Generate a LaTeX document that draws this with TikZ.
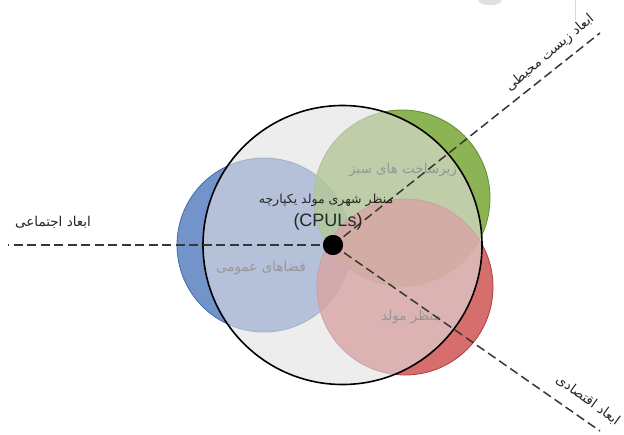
\documentclass[tikz,border=0pt]{standalone}
\usepackage{fontspec}
\setmainfont{Liberation Sans}
\newfontfamily\arabicfont[Script=Arabic]{DejaVu Sans}
\TeXXeTstate=1
\definecolor{pubfill}{RGB}{80,120,190}
\definecolor{publine}{RGB}{70,105,165}
\definecolor{grnfill}{RGB}{112,161,42}
\definecolor{grnline}{RGB}{100,140,45}
\definecolor{redfill}{RGB}{204,74,74}
\definecolor{redline}{RGB}{175,60,60}
\definecolor{overlay}{RGB}{225,225,225}
\definecolor{axiscol}{RGB}{55,55,55}
\definecolor{faint}{RGB}{150,150,150}
\begin{document}
\begin{tikzpicture}[x=1pt,y=-1pt,
  venn/.style={circle, inner sep=0pt, minimum size=#1, fill opacity=0.8, line width=0.8pt},
  bigc/.style={circle, inner sep=0pt, minimum size=#1, fill=overlay, fill opacity=0.6, draw=black, line width=1.6pt},
  axis/.style={draw=axiscol, line width=1.5pt, dash pattern=on 9pt off 4.5pt},
  axlabel/.style={font=\arabicfont\fontsize{13.5}{15}\selectfont, text=black!85, inner sep=1pt},
  setlabel/.style={font=\arabicfont\fontsize{13.5}{16}\selectfont, text=faint, inner sep=1pt},
  mainlabel/.style={font=\arabicfont\fontsize{12.5}{15}\selectfont, text=black!85, inner sep=1pt}]
\useasboundingbox (0,0) rectangle (624,434);
\fill[white] (0,0) rectangle (624,434);
% faint cropped artefacts at the top
\fill[black!12] (478,0) .. controls (480,7) and (500,7) .. (502,0) -- cycle;
\draw[black!15, line width=0.8pt] (575,0) -- (575,20);
% set circles
\node[venn=174pt, fill=pubfill, draw=publine] (pub) at (264,245) {};
\node[venn=176pt, fill=grnfill, draw=grnline] (grn) at (402,198) {};
\node[venn=176pt, fill=redfill, draw=redline] (prd) at (405,287) {};
% big circle
\node[bigc=279pt] (big) at (342.5,245) {};
% set labels
\node[setlabel] (lgrn) at (403,170) {\beginR زیرساخت های سبز\endR};
\node[setlabel] (lpub) at (261,268) {\beginR فضاهای عمومی\endR};
\node[setlabel] (lprd) at (411,317) {\beginR منظر مولد\endR};
% axes
\node[circle, fill=black, minimum size=20pt, inner sep=0pt] (hub) at (333,245) {};
\coordinate (westend) at (8,245);
\coordinate (neend) at (600,33);
\coordinate (seend) at (600,431);
\draw[axis] (hub.center) -- (westend);
\draw[axis] (hub.center) -- (neend);
\draw[axis] (hub.center) -- (seend);
\node[circle, fill=black, minimum size=20pt, inner sep=0pt] at (hub.center) {};
% main label
\node[mainlabel] (lmain) at (326,200) {\beginR منظر شهری مولد یکپارچه\endR};
\node[font=\fontsize{18}{20}\selectfont, text=black!85, inner sep=1pt] (lcpul) at (328,222) {(CPULs)};
% axis labels
\node[axlabel] (lsoc) at (53,222) {\beginR ابعاد اجتماعی\endR};
\node[axlabel, rotate=40] (lenv) at (550,53) {\beginR ابعاد زیست محیطی\endR};
\node[axlabel, rotate=-36] (leco) at (588,400) {\beginR ابعاد اقتصادی\endR};
\end{tikzpicture}
\end{document}
